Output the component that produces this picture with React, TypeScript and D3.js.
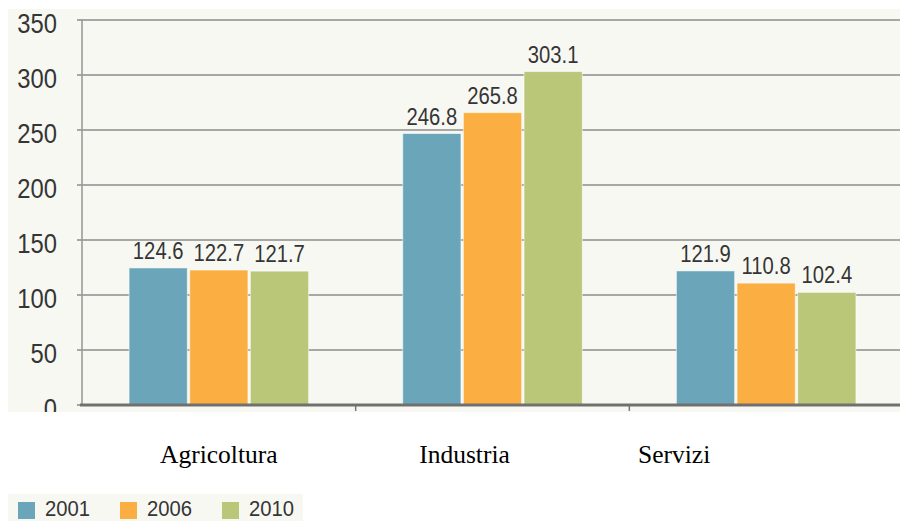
import React from "react";
import * as d3 from "d3";

const categories = ["Agricoltura", "Industria", "Servizi"];
const years = ["2001", "2006", "2010"];
const values2001 = [124.6, 246.8, 121.9];
const values2006 = [122.7, 265.8, 110.8];
const values2010 = [121.7, 303.1, 102.4];
const yTicks = [0, 50, 100, 150, 200, 250, 300, 350];
const colors = ["#6aa5ba", "#fbae41", "#bac678"];

// layout
const W = 900;
const H = 521;
const plotLeft = 82;
const plotRight = 903;
const yZero = 405;
const yTop = 20;
const labelCenterOffsets = [0, -28, -92];

export default function App() {
  const series = [values2001, values2006, values2010];
  const x0 = d3.scaleBand<string>().domain(categories).range([plotLeft, plotRight]).padding(0);
  const bw = x0.bandwidth();
  const x1 = d3
    .scaleBand<string>()
    .domain(years)
    .range([bw * 0.172, bw * 0.828])
    .paddingInner(0.04)
    .paddingOuter(0);
  const y = d3.scaleLinear().domain([0, 350]).range([yZero, yTop]);

  const textFill = "#353535";
  const axisFont = "'Liberation Sans', Arial, sans-serif";

  return (
    <svg
      width={W}
      height={H}
      style={{ position: "absolute", left: 0, top: 0, display: "block" }}
    >
      <defs>
        <clipPath id="chartClip">
          <rect x={8} y={9} width={892} height={403} />
        </clipPath>
      </defs>
      <rect x={0} y={0} width={W} height={H} fill="#ffffff" />
      <g clipPath="url(#chartClip)">
        <rect x={8} y={9} width={892} height={403} fill="#f8f8f3" />
        {yTicks.map((t) => (
          <g key={t}>
            {t > 0 && (
              <line
                x1={plotLeft - 5}
                x2={W}
                y1={y(t)}
                y2={y(t)}
                stroke="#8c8c8c"
                strokeWidth={1.6}
              />
            )}
            <text
              transform={`translate(57,${y(t) + 13}) scale(0.85,1)`}
              textAnchor="end"
              fontFamily={axisFont}
              fontSize={28}
              fill={textFill}
            >
              {t}
            </text>
          </g>
        ))}
        <line
          x1={plotLeft - 5}
          x2={plotLeft}
          y1={yZero}
          y2={yZero}
          stroke="#8c8c8c"
          strokeWidth={1.6}
        />
        <line x1={plotLeft} x2={plotLeft} y1={yTop - 1} y2={yZero} stroke="#9a9a9a" strokeWidth={1.6} />
        {categories.map((c, ci) => (
          <g key={c} transform={`translate(${x0(c)},0)`}>
            {years.map((yr, si) => {
              const v = series[si][ci];
              const bx = x1(yr)!;
              return (
                <g key={yr}>
                  <rect
                    x={bx}
                    y={y(v)}
                    width={x1.bandwidth()}
                    height={yZero - y(v)}
                    fill={colors[si]}
                    stroke="#ffffff"
                    strokeOpacity={0.55}
                    strokeWidth={1}
                  />
                  <text
                    transform={`translate(${bx + x1.bandwidth() / 2},${y(v) - 9}) scale(0.88,1)`}
                    textAnchor="middle"
                    fontFamily={axisFont}
                    fontSize={23}
                    fill={textFill}
                  >
                    {v.toFixed(1)}
                  </text>
                </g>
              );
            })}
          </g>
        ))}
        {categories.slice(1).map((c) => (
          <line
            key={c}
            x1={x0(c)}
            x2={x0(c)}
            y1={yZero}
            y2={yZero + 6}
            stroke="#777"
            strokeWidth={1.5}
          />
        ))}
        <line x1={plotLeft - 2} x2={W} y1={yZero} y2={yZero} stroke="#707070" strokeWidth={3} />
      </g>
      {categories.map((c, ci) => (
        <text
          key={c}
          x={x0(c)! + bw / 2 + labelCenterOffsets[ci]}
          y={463}
          textAnchor="middle"
          fontFamily="'Liberation Serif', 'Times New Roman', serif"
          fontSize={25.5}
          fill="#000"
        >
          {c}
        </text>
      ))}
      <rect x={8} y={494} width={295} height={27} fill="#f8f8f3" />
      {years.map((yr, si) => (
        <g key={yr} transform={`translate(${18 + si * 102},0)`}>
          <rect x={0} y={502} width={17} height={17} fill={colors[si]} />
          <text
            transform={`translate(27,515.5) scale(0.9,1)`}
            fontFamily={axisFont}
            fontSize={22.5}
            fill={textFill}
          >
            {yr}
          </text>
        </g>
      ))}
    </svg>
  );
}
